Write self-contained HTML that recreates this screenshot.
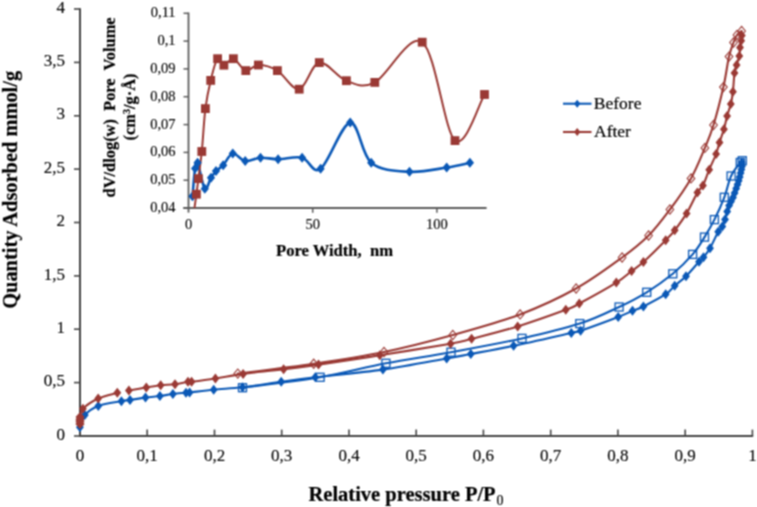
<!DOCTYPE html>
<html><head><meta charset="utf-8"><style>
html,body{margin:0;padding:0;background:#fff;}
body{width:757px;height:507px;overflow:hidden;font-family:"Liberation Serif",serif;}
svg{display:block;}
text{stroke:#000;stroke-width:0.2px;}
.t text{stroke-width:0.12px;}
</style></head><body>
<svg width="757" height="507" viewBox="0 0 757 507">
<defs><filter id="bl" color-interpolation-filters="sRGB" x="0" y="0" width="757" height="507" filterUnits="userSpaceOnUse"><feConvolveMatrix order="3" kernelMatrix="1 2 1 2 4 2 1 2 1" divisor="16" edgeMode="duplicate" preserveAlpha="false"/></filter></defs>
<g filter="url(#bl)">
<rect width="757" height="507" fill="#fff"/>
<g stroke="#454545" fill="none">
<line x1="80.0" y1="8.2" x2="80.0" y2="437.0" stroke-width="2"/>
<line x1="79.0" y1="436.0" x2="753.2" y2="436.0" stroke-width="2"/>
<line x1="74" y1="436.0" x2="80.0" y2="436.0" stroke-width="1.6"/>
<line x1="74" y1="382.6" x2="80.0" y2="382.6" stroke-width="1.6"/>
<line x1="74" y1="329.2" x2="80.0" y2="329.2" stroke-width="1.6"/>
<line x1="74" y1="275.9" x2="80.0" y2="275.9" stroke-width="1.6"/>
<line x1="74" y1="222.5" x2="80.0" y2="222.5" stroke-width="1.6"/>
<line x1="74" y1="169.1" x2="80.0" y2="169.1" stroke-width="1.6"/>
<line x1="74" y1="115.8" x2="80.0" y2="115.8" stroke-width="1.6"/>
<line x1="74" y1="62.4" x2="80.0" y2="62.4" stroke-width="1.6"/>
<line x1="74" y1="9.0" x2="80.0" y2="9.0" stroke-width="1.6"/>
<line x1="80.0" y1="429.6" x2="80.0" y2="436.0" stroke-width="1.6"/>
<line x1="147.2" y1="429.6" x2="147.2" y2="436.0" stroke-width="1.6"/>
<line x1="214.5" y1="429.6" x2="214.5" y2="436.0" stroke-width="1.6"/>
<line x1="281.7" y1="429.6" x2="281.7" y2="436.0" stroke-width="1.6"/>
<line x1="349.0" y1="429.6" x2="349.0" y2="436.0" stroke-width="1.6"/>
<line x1="416.2" y1="429.6" x2="416.2" y2="436.0" stroke-width="1.6"/>
<line x1="483.4" y1="429.6" x2="483.4" y2="436.0" stroke-width="1.6"/>
<line x1="550.7" y1="429.6" x2="550.7" y2="436.0" stroke-width="1.6"/>
<line x1="617.9" y1="429.6" x2="617.9" y2="436.0" stroke-width="1.6"/>
<line x1="685.2" y1="429.6" x2="685.2" y2="436.0" stroke-width="1.6"/>
<line x1="752.4" y1="429.6" x2="752.4" y2="436.0" stroke-width="1.6"/>
</g>
<g class="t" font-family="Liberation Serif" font-size="17" fill="#000000">
<text x="65" y="439.6" text-anchor="end">0</text>
<text x="65" y="386.2" text-anchor="end">0,5</text>
<text x="65" y="332.9" text-anchor="end">1</text>
<text x="65" y="279.5" text-anchor="end">1,5</text>
<text x="65" y="226.1" text-anchor="end">2</text>
<text x="65" y="172.7" text-anchor="end">2,5</text>
<text x="65" y="119.3" text-anchor="end">3</text>
<text x="65" y="66.0" text-anchor="end">3,5</text>
<text x="65" y="12.6" text-anchor="end">4</text>
<text x="80.0" y="460.6" text-anchor="middle">0</text>
<text x="147.2" y="460.6" text-anchor="middle">0,1</text>
<text x="214.5" y="460.6" text-anchor="middle">0,2</text>
<text x="281.7" y="460.6" text-anchor="middle">0,3</text>
<text x="349.0" y="460.6" text-anchor="middle">0,4</text>
<text x="416.2" y="460.6" text-anchor="middle">0,5</text>
<text x="483.4" y="460.6" text-anchor="middle">0,6</text>
<text x="550.7" y="460.6" text-anchor="middle">0,7</text>
<text x="617.9" y="460.6" text-anchor="middle">0,8</text>
<text x="685.2" y="460.6" text-anchor="middle">0,9</text>
<text x="752.4" y="460.6" text-anchor="middle">1</text>
</g>
<text x="308.5" y="500.8" font-family="Liberation Serif" font-weight="bold" font-size="20.5" fill="#000000">Relative pressure P/P<tspan font-size="14" font-weight="normal" dx="0.8" dy="4.2">0</tspan></text>
<text transform="translate(17,308.8) rotate(-90)" x="0" y="0" font-family="Liberation Serif" font-weight="bold" font-size="20.4" fill="#000000">Quantity Adsorbed mmol/g</text>
<path d="M79.9 427.3 C80.7 425.3 81.7 418.7 84.8 415.1 C87.9 411.5 92.2 408.2 98.3 405.9 C104.4 403.6 116.1 402.2 121.4 401.2 C126.7 400.2 126.0 400.6 130.0 400.0 C134.0 399.4 140.5 398.3 145.5 397.6 C150.5 396.9 155.3 396.6 159.9 396.0 C164.5 395.4 168.6 394.6 172.9 394.0 C177.2 393.4 183.2 392.9 186.0 392.7 C188.8 392.4 185.0 393.0 189.6 392.5 C194.2 392.0 204.9 390.6 213.7 389.7 C222.5 388.8 231.2 388.6 242.5 387.3 C253.8 386.0 269.1 383.5 281.2 381.8 C293.3 380.1 298.4 379.3 315.3 377.3 C332.2 375.3 361.0 372.7 382.9 369.6 C404.8 366.5 432.0 361.1 446.7 358.5 C461.4 355.9 459.6 356.1 470.8 354.0 C482.0 351.9 496.9 349.3 513.6 345.8 C530.4 342.3 560.1 335.4 571.3 332.9 C582.5 330.4 572.8 333.4 580.6 330.7 C588.4 328.0 609.6 320.2 618.2 316.9 C626.9 313.6 628.3 312.5 632.5 310.8 C636.7 309.1 637.9 309.3 643.4 306.5 C648.9 303.7 660.5 297.7 665.7 294.2 C670.9 290.7 671.3 288.7 674.7 285.7 C678.1 282.7 682.0 280.2 686.0 276.2 C690.0 272.2 696.1 264.9 699.0 261.8 C701.9 258.7 701.7 259.6 703.5 257.3 C705.3 255.0 707.5 252.4 710.0 248.2 C712.5 243.9 716.2 235.4 718.2 231.8 C720.2 228.2 721.2 228.7 722.3 226.6 C723.4 224.5 724.2 221.9 725.0 219.4 C725.8 216.9 726.5 213.8 727.2 211.5 C727.9 209.2 728.5 207.2 729.1 205.5 C729.7 203.8 730.4 202.8 731.0 201.5 C731.6 200.2 732.4 198.8 733.0 197.4 C733.6 196.0 734.1 194.5 734.6 193.0 C735.1 191.5 735.7 189.9 736.2 188.5 C736.7 187.1 737.1 185.8 737.5 184.5 C737.9 183.2 738.3 182.1 738.7 180.8 C739.1 179.6 739.4 178.3 739.7 177.0 C740.0 175.7 740.3 174.2 740.6 173.0 C740.9 171.8 741.2 170.6 741.4 169.5 C741.6 168.4 741.9 167.4 742.0 166.2 C742.1 165.0 741.8 163.1 741.8 162.5" fill="none" stroke="#0a58b6" stroke-width="2.1" stroke-linejoin="round" stroke-linecap="round"/>
<path d="M742.3 160.7 C742.0 161.0 742.2 159.9 740.3 162.5 C738.4 165.1 733.8 170.2 731.1 176.0 C728.4 181.8 727.1 190.0 724.3 197.3 C721.5 204.6 717.7 213.0 714.4 219.6 C711.1 226.2 708.1 231.3 704.5 237.1 C700.9 242.9 697.9 248.3 692.6 254.4 C687.3 260.5 680.4 267.5 672.8 273.8 C665.1 280.1 655.7 286.8 646.7 292.3 C637.8 297.8 630.2 301.8 619.1 307.0 C608.0 312.2 596.0 318.4 579.8 323.6 C563.6 328.8 543.5 333.6 522.0 338.4 C500.5 343.2 473.7 348.0 451.0 352.2 C428.3 356.4 407.7 359.1 385.9 363.3 C364.1 367.5 344.0 373.2 320.1 377.3 C296.2 381.4 255.4 386.0 242.5 387.7" fill="none" stroke="#0a58b6" stroke-width="2.1" stroke-linejoin="round" stroke-linecap="round"/>
<path d="M80.0 424.0 C80.0 423.6 80.0 422.2 80.0 421.5 C80.0 420.8 80.0 420.2 80.0 419.5 C80.0 418.8 79.6 418.8 80.1 417.0 C80.6 415.2 79.9 411.9 82.9 408.8 C85.9 405.7 92.5 401.2 98.2 398.5 C103.9 395.8 114.1 393.8 117.3 392.8" fill="none" stroke="#9a3934" stroke-width="2.1" stroke-linejoin="round" stroke-linecap="round"/>
<path d="M128.9 390.5 C131.8 390.0 141.0 388.3 146.3 387.4 C151.6 386.5 155.9 385.7 160.7 385.2 C165.5 384.7 170.4 384.8 175.0 384.2 C179.6 383.6 185.2 382.2 188.0 381.8 C190.8 381.4 187.0 382.4 191.6 381.8 C196.2 381.2 206.8 379.8 215.4 378.5 C224.0 377.2 231.7 375.4 243.1 373.9 C254.5 372.4 271.0 370.9 283.6 369.3 C296.2 367.8 302.5 366.9 318.5 364.6 C334.5 362.3 357.8 358.8 379.8 355.3 C401.8 351.8 435.3 346.4 450.6 343.7 C465.9 340.9 460.4 341.7 471.6 338.8 C482.8 335.9 502.0 331.2 517.7 326.4 C533.4 321.6 555.5 313.6 565.8 309.8 C576.1 306.0 570.9 308.0 579.3 303.5 C587.7 299.0 607.6 288.0 616.3 282.6 C625.0 277.2 627.1 274.4 631.6 271.0 C636.1 267.6 637.7 267.1 643.4 262.0 C649.1 256.9 660.5 245.5 665.7 240.2 C670.9 234.9 671.2 234.8 674.7 230.3 C678.2 225.8 682.8 219.7 686.6 213.4 C690.4 207.1 694.7 197.2 697.4 192.6 C700.1 187.9 700.9 189.3 702.9 185.5 C704.9 181.7 707.0 174.9 709.2 169.7 C711.4 164.4 714.4 158.6 716.1 154.0 C717.8 149.4 718.2 146.5 719.5 142.4 C720.8 138.3 722.6 133.7 723.9 129.3 C725.2 124.9 726.0 120.2 727.1 116.0 C728.2 111.8 729.8 108.0 730.8 104.0 C731.8 100.0 732.3 97.0 732.9 91.8 C733.5 86.6 733.9 77.6 734.5 73.1 C735.1 68.6 735.8 67.8 736.6 64.9 C737.4 62.0 738.7 58.8 739.3 55.9 C739.9 53.0 739.7 50.1 740.0 47.6 C740.3 45.1 740.9 42.8 741.2 40.8 C741.5 38.8 741.7 36.4 741.8 35.5" fill="none" stroke="#9a3934" stroke-width="2.1" stroke-linejoin="round" stroke-linecap="round"/>
<path d="M741.6 31.0 C740.8 31.7 738.4 33.1 737.0 35.0 C735.6 36.9 734.8 38.9 733.5 42.5 C732.2 46.1 730.7 49.2 729.0 56.6 C727.3 64.0 726.0 75.7 723.4 87.1 C720.8 98.5 716.6 114.9 713.5 125.0 C710.4 135.1 708.6 139.0 704.9 147.9 C701.1 156.8 696.8 168.1 691.0 178.4 C685.2 188.7 677.0 200.0 669.9 209.5 C662.8 219.0 656.6 227.5 648.6 235.5 C640.6 243.5 634.2 248.7 622.1 257.5 C610.0 266.3 593.1 279.0 576.1 288.5 C559.1 298.0 540.6 306.6 520.1 314.4 C499.6 322.1 475.5 328.7 452.8 335.0 C430.1 341.3 407.2 347.2 384.0 352.0 C360.8 356.8 338.1 360.2 313.7 363.8 C289.3 367.4 250.5 372.0 237.8 373.6" fill="none" stroke="#9a3934" stroke-width="2.1" stroke-linejoin="round" stroke-linecap="round"/>
<path d="M79.9 422.3L83.8 427.3L79.9 432.3L76.0 427.3Z" fill="#0a58b6"/>
<path d="M84.8 410.1L88.7 415.1L84.8 420.1L80.9 415.1Z" fill="#0a58b6"/>
<path d="M98.3 400.9L102.2 405.9L98.3 410.9L94.4 405.9Z" fill="#0a58b6"/>
<path d="M121.4 396.2L125.3 401.2L121.4 406.2L117.5 401.2Z" fill="#0a58b6"/>
<path d="M130.0 395.0L133.9 400.0L130.0 405.0L126.1 400.0Z" fill="#0a58b6"/>
<path d="M145.5 392.6L149.4 397.6L145.5 402.6L141.6 397.6Z" fill="#0a58b6"/>
<path d="M159.9 391.0L163.8 396.0L159.9 401.0L156.0 396.0Z" fill="#0a58b6"/>
<path d="M172.9 389.0L176.8 394.0L172.9 399.0L169.0 394.0Z" fill="#0a58b6"/>
<path d="M186.0 387.7L189.9 392.7L186.0 397.7L182.1 392.7Z" fill="#0a58b6"/>
<path d="M189.6 387.5L193.5 392.5L189.6 397.5L185.7 392.5Z" fill="#0a58b6"/>
<path d="M213.7 384.7L217.6 389.7L213.7 394.7L209.8 389.7Z" fill="#0a58b6"/>
<path d="M242.5 382.3L246.4 387.3L242.5 392.3L238.6 387.3Z" fill="#0a58b6"/>
<path d="M281.2 376.8L285.1 381.8L281.2 386.8L277.3 381.8Z" fill="#0a58b6"/>
<path d="M315.3 372.3L319.2 377.3L315.3 382.3L311.4 377.3Z" fill="#0a58b6"/>
<path d="M382.9 364.6L386.8 369.6L382.9 374.6L379.0 369.6Z" fill="#0a58b6"/>
<path d="M446.7 353.5L450.6 358.5L446.7 363.5L442.8 358.5Z" fill="#0a58b6"/>
<path d="M470.8 349.0L474.7 354.0L470.8 359.0L466.9 354.0Z" fill="#0a58b6"/>
<path d="M513.6 340.8L517.5 345.8L513.6 350.8L509.7 345.8Z" fill="#0a58b6"/>
<path d="M571.3 327.9L575.2 332.9L571.3 337.9L567.4 332.9Z" fill="#0a58b6"/>
<path d="M580.6 325.7L584.5 330.7L580.6 335.7L576.7 330.7Z" fill="#0a58b6"/>
<path d="M618.2 311.9L622.1 316.9L618.2 321.9L614.3 316.9Z" fill="#0a58b6"/>
<path d="M632.5 305.8L636.4 310.8L632.5 315.8L628.6 310.8Z" fill="#0a58b6"/>
<path d="M643.4 301.5L647.3 306.5L643.4 311.5L639.5 306.5Z" fill="#0a58b6"/>
<path d="M665.7 289.2L669.6 294.2L665.7 299.2L661.8 294.2Z" fill="#0a58b6"/>
<path d="M674.7 280.7L678.6 285.7L674.7 290.7L670.8 285.7Z" fill="#0a58b6"/>
<path d="M686.0 271.2L689.9 276.2L686.0 281.2L682.1 276.2Z" fill="#0a58b6"/>
<path d="M699.0 256.8L702.9 261.8L699.0 266.8L695.1 261.8Z" fill="#0a58b6"/>
<path d="M703.5 252.3L707.4 257.3L703.5 262.3L699.6 257.3Z" fill="#0a58b6"/>
<path d="M710.0 243.2L713.9 248.2L710.0 253.2L706.1 248.2Z" fill="#0a58b6"/>
<path d="M718.2 226.8L722.1 231.8L718.2 236.8L714.3 231.8Z" fill="#0a58b6"/>
<path d="M722.3 221.6L726.2 226.6L722.3 231.6L718.4 226.6Z" fill="#0a58b6"/>
<path d="M725.0 214.4L728.9 219.4L725.0 224.4L721.1 219.4Z" fill="#0a58b6"/>
<path d="M727.2 206.5L731.1 211.5L727.2 216.5L723.3 211.5Z" fill="#0a58b6"/>
<path d="M729.1 200.5L733.0 205.5L729.1 210.5L725.2 205.5Z" fill="#0a58b6"/>
<path d="M731.0 196.5L734.9 201.5L731.0 206.5L727.1 201.5Z" fill="#0a58b6"/>
<path d="M733.0 192.4L736.9 197.4L733.0 202.4L729.1 197.4Z" fill="#0a58b6"/>
<path d="M734.6 188.0L738.5 193.0L734.6 198.0L730.7 193.0Z" fill="#0a58b6"/>
<path d="M736.2 183.5L740.1 188.5L736.2 193.5L732.3 188.5Z" fill="#0a58b6"/>
<path d="M737.5 179.5L741.4 184.5L737.5 189.5L733.6 184.5Z" fill="#0a58b6"/>
<path d="M738.7 175.8L742.6 180.8L738.7 185.8L734.8 180.8Z" fill="#0a58b6"/>
<path d="M739.7 172.0L743.6 177.0L739.7 182.0L735.8 177.0Z" fill="#0a58b6"/>
<path d="M740.6 168.0L744.5 173.0L740.6 178.0L736.7 173.0Z" fill="#0a58b6"/>
<path d="M741.4 164.5L745.3 169.5L741.4 174.5L737.5 169.5Z" fill="#0a58b6"/>
<path d="M742.0 161.2L745.9 166.2L742.0 171.2L738.1 166.2Z" fill="#0a58b6"/>
<path d="M741.8 157.5L745.7 162.5L741.8 167.5L737.9 162.5Z" fill="#0a58b6"/>
<rect x="738.3" y="156.7" width="8.0" height="8.0" fill="none" stroke="#0a58b6" stroke-width="1.3"/>
<rect x="736.3" y="158.5" width="8.0" height="8.0" fill="none" stroke="#0a58b6" stroke-width="1.3"/>
<rect x="727.1" y="172.0" width="8.0" height="8.0" fill="none" stroke="#0a58b6" stroke-width="1.3"/>
<rect x="720.3" y="193.3" width="8.0" height="8.0" fill="none" stroke="#0a58b6" stroke-width="1.3"/>
<rect x="710.4" y="215.6" width="8.0" height="8.0" fill="none" stroke="#0a58b6" stroke-width="1.3"/>
<rect x="700.5" y="233.1" width="8.0" height="8.0" fill="none" stroke="#0a58b6" stroke-width="1.3"/>
<rect x="688.6" y="250.4" width="8.0" height="8.0" fill="none" stroke="#0a58b6" stroke-width="1.3"/>
<rect x="668.8" y="269.8" width="8.0" height="8.0" fill="none" stroke="#0a58b6" stroke-width="1.3"/>
<rect x="642.7" y="288.3" width="8.0" height="8.0" fill="none" stroke="#0a58b6" stroke-width="1.3"/>
<rect x="615.1" y="303.0" width="8.0" height="8.0" fill="none" stroke="#0a58b6" stroke-width="1.3"/>
<rect x="575.8" y="319.6" width="8.0" height="8.0" fill="none" stroke="#0a58b6" stroke-width="1.3"/>
<rect x="518.0" y="334.4" width="8.0" height="8.0" fill="none" stroke="#0a58b6" stroke-width="1.3"/>
<rect x="447.0" y="348.2" width="8.0" height="8.0" fill="none" stroke="#0a58b6" stroke-width="1.3"/>
<rect x="381.9" y="359.3" width="8.0" height="8.0" fill="none" stroke="#0a58b6" stroke-width="1.3"/>
<rect x="316.1" y="373.3" width="8.0" height="8.0" fill="none" stroke="#0a58b6" stroke-width="1.3"/>
<rect x="238.5" y="383.7" width="8.0" height="8.0" fill="none" stroke="#0a58b6" stroke-width="1.3"/>
<path d="M80.0 419.0L84.6 424.0L80.0 429.0L75.4 424.0Z" fill="#9a3934"/>
<path d="M80.0 416.5L84.6 421.5L80.0 426.5L75.4 421.5Z" fill="#9a3934"/>
<path d="M80.0 414.5L84.6 419.5L80.0 424.5L75.4 419.5Z" fill="#9a3934"/>
<path d="M80.1 412.0L84.7 417.0L80.1 422.0L75.5 417.0Z" fill="#9a3934"/>
<path d="M82.9 403.8L86.8 408.8L82.9 413.8L79.0 408.8Z" fill="#9a3934"/>
<path d="M98.2 393.5L102.1 398.5L98.2 403.5L94.3 398.5Z" fill="#9a3934"/>
<path d="M117.3 387.8L121.2 392.8L117.3 397.8L113.4 392.8Z" fill="#9a3934"/>
<path d="M128.9 385.5L132.8 390.5L128.9 395.5L125.0 390.5Z" fill="#9a3934"/>
<path d="M146.3 382.4L150.2 387.4L146.3 392.4L142.4 387.4Z" fill="#9a3934"/>
<path d="M160.7 380.2L164.6 385.2L160.7 390.2L156.8 385.2Z" fill="#9a3934"/>
<path d="M175.0 379.2L178.9 384.2L175.0 389.2L171.1 384.2Z" fill="#9a3934"/>
<path d="M188.0 376.8L191.9 381.8L188.0 386.8L184.1 381.8Z" fill="#9a3934"/>
<path d="M191.6 376.8L195.5 381.8L191.6 386.8L187.7 381.8Z" fill="#9a3934"/>
<path d="M215.4 373.5L219.3 378.5L215.4 383.5L211.5 378.5Z" fill="#9a3934"/>
<path d="M243.1 368.9L247.0 373.9L243.1 378.9L239.2 373.9Z" fill="#9a3934"/>
<path d="M283.6 364.3L287.5 369.3L283.6 374.3L279.7 369.3Z" fill="#9a3934"/>
<path d="M318.5 359.6L322.4 364.6L318.5 369.6L314.6 364.6Z" fill="#9a3934"/>
<path d="M379.8 350.3L383.7 355.3L379.8 360.3L375.9 355.3Z" fill="#9a3934"/>
<path d="M450.6 338.7L454.5 343.7L450.6 348.7L446.7 343.7Z" fill="#9a3934"/>
<path d="M471.6 333.8L475.5 338.8L471.6 343.8L467.7 338.8Z" fill="#9a3934"/>
<path d="M517.7 321.4L521.6 326.4L517.7 331.4L513.8 326.4Z" fill="#9a3934"/>
<path d="M565.8 304.8L569.7 309.8L565.8 314.8L561.9 309.8Z" fill="#9a3934"/>
<path d="M579.3 298.5L583.2 303.5L579.3 308.5L575.4 303.5Z" fill="#9a3934"/>
<path d="M616.3 277.6L620.2 282.6L616.3 287.6L612.4 282.6Z" fill="#9a3934"/>
<path d="M631.6 266.0L635.5 271.0L631.6 276.0L627.7 271.0Z" fill="#9a3934"/>
<path d="M643.4 257.0L647.3 262.0L643.4 267.0L639.5 262.0Z" fill="#9a3934"/>
<path d="M665.7 235.2L669.6 240.2L665.7 245.2L661.8 240.2Z" fill="#9a3934"/>
<path d="M674.7 225.3L678.6 230.3L674.7 235.3L670.8 230.3Z" fill="#9a3934"/>
<path d="M686.6 208.4L690.5 213.4L686.6 218.4L682.7 213.4Z" fill="#9a3934"/>
<path d="M697.4 187.6L701.3 192.6L697.4 197.6L693.5 192.6Z" fill="#9a3934"/>
<path d="M702.9 180.5L706.8 185.5L702.9 190.5L699.0 185.5Z" fill="#9a3934"/>
<path d="M709.2 164.7L713.1 169.7L709.2 174.7L705.3 169.7Z" fill="#9a3934"/>
<path d="M716.1 149.0L720.0 154.0L716.1 159.0L712.2 154.0Z" fill="#9a3934"/>
<path d="M719.5 137.4L723.4 142.4L719.5 147.4L715.6 142.4Z" fill="#9a3934"/>
<path d="M723.9 124.3L727.8 129.3L723.9 134.3L720.0 129.3Z" fill="#9a3934"/>
<path d="M727.1 111.0L731.0 116.0L727.1 121.0L723.2 116.0Z" fill="#9a3934"/>
<path d="M730.8 99.0L734.7 104.0L730.8 109.0L726.9 104.0Z" fill="#9a3934"/>
<path d="M732.9 86.8L736.8 91.8L732.9 96.8L729.0 91.8Z" fill="#9a3934"/>
<path d="M734.5 68.1L738.4 73.1L734.5 78.1L730.6 73.1Z" fill="#9a3934"/>
<path d="M736.6 59.9L740.5 64.9L736.6 69.9L732.7 64.9Z" fill="#9a3934"/>
<path d="M739.3 50.9L743.2 55.9L739.3 60.9L735.4 55.9Z" fill="#9a3934"/>
<path d="M740.0 42.6L743.9 47.6L740.0 52.6L736.1 47.6Z" fill="#9a3934"/>
<path d="M741.2 35.8L745.1 40.8L741.2 45.8L737.3 40.8Z" fill="#9a3934"/>
<path d="M741.8 30.5L745.7 35.5L741.8 40.5L737.9 35.5Z" fill="#9a3934"/>
<path d="M741.6 26.4L745.4 31.0L741.6 35.6L737.8 31.0Z" fill="none" stroke="#9a3934" stroke-width="1.1"/>
<path d="M737.0 30.4L740.8 35.0L737.0 39.6L733.2 35.0Z" fill="none" stroke="#9a3934" stroke-width="1.1"/>
<path d="M733.5 37.9L737.3 42.5L733.5 47.1L729.7 42.5Z" fill="none" stroke="#9a3934" stroke-width="1.1"/>
<path d="M729.0 52.0L732.8 56.6L729.0 61.2L725.2 56.6Z" fill="none" stroke="#9a3934" stroke-width="1.1"/>
<path d="M723.4 82.5L727.2 87.1L723.4 91.7L719.6 87.1Z" fill="none" stroke="#9a3934" stroke-width="1.1"/>
<path d="M713.5 120.4L717.3 125.0L713.5 129.6L709.7 125.0Z" fill="none" stroke="#9a3934" stroke-width="1.1"/>
<path d="M704.9 143.3L708.7 147.9L704.9 152.5L701.1 147.9Z" fill="none" stroke="#9a3934" stroke-width="1.1"/>
<path d="M691.0 173.8L694.8 178.4L691.0 183.0L687.2 178.4Z" fill="none" stroke="#9a3934" stroke-width="1.1"/>
<path d="M669.9 204.9L673.7 209.5L669.9 214.1L666.1 209.5Z" fill="none" stroke="#9a3934" stroke-width="1.1"/>
<path d="M648.6 230.9L652.4 235.5L648.6 240.1L644.8 235.5Z" fill="none" stroke="#9a3934" stroke-width="1.1"/>
<path d="M622.1 252.9L625.9 257.5L622.1 262.1L618.3 257.5Z" fill="none" stroke="#9a3934" stroke-width="1.1"/>
<path d="M576.1 283.9L579.9 288.5L576.1 293.1L572.3 288.5Z" fill="none" stroke="#9a3934" stroke-width="1.1"/>
<path d="M520.1 309.8L523.9 314.4L520.1 319.0L516.3 314.4Z" fill="none" stroke="#9a3934" stroke-width="1.1"/>
<path d="M452.8 330.4L456.6 335.0L452.8 339.6L449.0 335.0Z" fill="none" stroke="#9a3934" stroke-width="1.1"/>
<path d="M384.0 347.4L387.8 352.0L384.0 356.6L380.2 352.0Z" fill="none" stroke="#9a3934" stroke-width="1.1"/>
<path d="M313.7 359.2L317.5 363.8L313.7 368.4L309.9 363.8Z" fill="none" stroke="#9a3934" stroke-width="1.1"/>
<path d="M237.8 369.0L241.6 373.6L237.8 378.2L234.0 373.6Z" fill="none" stroke="#9a3934" stroke-width="1.1"/>
<line x1="563" y1="103.7" x2="591.5" y2="103.7" stroke="#0a58b6" stroke-width="2.1"/>
<path d="M577.2 99.8L580.4 103.8L577.2 107.8L574.0 103.8Z" fill="#0a58b6"/>
<line x1="563" y1="132" x2="591.5" y2="132" stroke="#9a3934" stroke-width="2.1"/>
<path d="M577.2 128.1L580.4 132.1L577.2 136.1L574.0 132.1Z" fill="#9a3934"/>
<g font-family="Liberation Serif" font-size="17.5" fill="#000000">
<text x="593.8" y="109.2">Before</text>
<text x="594" y="137.4">After</text>
</g>
<g stroke="#5c5c5c" fill="none">
<line x1="188.5" y1="12.5" x2="188.5" y2="212.6" stroke-width="1.8"/>
<line x1="183.3" y1="208.0" x2="486.6" y2="208.0" stroke-width="1.8"/>
<line x1="183.5" y1="208.0" x2="188.5" y2="208.0" stroke-width="1.5"/>
<line x1="183.5" y1="180.2" x2="188.5" y2="180.2" stroke-width="1.5"/>
<line x1="183.5" y1="152.4" x2="188.5" y2="152.4" stroke-width="1.5"/>
<line x1="183.5" y1="124.6" x2="188.5" y2="124.6" stroke-width="1.5"/>
<line x1="183.5" y1="96.7" x2="188.5" y2="96.7" stroke-width="1.5"/>
<line x1="183.5" y1="68.9" x2="188.5" y2="68.9" stroke-width="1.5"/>
<line x1="183.5" y1="41.1" x2="188.5" y2="41.1" stroke-width="1.5"/>
<line x1="183.5" y1="13.3" x2="188.5" y2="13.3" stroke-width="1.5"/>
<line x1="312.7" y1="208.0" x2="312.7" y2="212.8" stroke-width="1.5"/>
<line x1="436.9" y1="208.0" x2="436.9" y2="212.8" stroke-width="1.5"/>
</g>
<g class="t" font-family="Liberation Serif" font-size="14.5" fill="#000000">
<text x="175.6" y="211.9" text-anchor="end">0,04</text>
<text x="175.6" y="184.1" text-anchor="end">0,05</text>
<text x="175.6" y="156.3" text-anchor="end">0,06</text>
<text x="175.6" y="128.5" text-anchor="end">0,07</text>
<text x="175.6" y="100.6" text-anchor="end">0,08</text>
<text x="175.6" y="72.8" text-anchor="end">0,09</text>
<text x="175.6" y="45.0" text-anchor="end">0,1</text>
<text x="175.6" y="17.2" text-anchor="end">0,11</text>
<text x="188.5" y="229" text-anchor="middle">0</text>
<text x="312.7" y="229" text-anchor="middle">50</text>
<text x="436.9" y="229" text-anchor="middle">100</text>
</g>
<text x="276" y="255.8" font-family="Liberation Serif" font-weight="bold" font-size="16.6" fill="#000000" xml:space="preserve">Pore Width,  nm</text>
<text transform="translate(115,197.4) rotate(-90)" font-family="Liberation Serif" font-weight="bold" font-size="16.4" fill="#000000" xml:space="preserve">dV/dlog(w)  Pore  Volume</text>
<text transform="translate(134.5,140.4) rotate(-90)" font-family="Liberation Serif" font-weight="bold" font-size="16.4" fill="#000000">(cm<tspan font-size="10" dy="-4.8">3</tspan><tspan dy="4.8">/g·Å)</tspan></text>
<defs><clipPath id="ic"><rect x="188" y="0" width="300" height="208"/></clipPath></defs>
<path d="M192.5 196.2 C192.9 191.6 194.2 174.1 195.1 168.5 C195.9 162.9 196.0 159.3 197.6 162.7 C199.2 166.1 202.6 186.2 204.8 188.7 C207.0 191.2 209.1 180.7 211.0 177.8 C212.9 174.9 214.0 173.2 216.0 171.1 C218.0 169.0 220.4 168.1 223.2 165.2 C226.0 162.3 229.1 154.2 232.8 153.5 C236.5 152.8 240.6 160.3 245.2 161.0 C249.8 161.7 255.0 158.0 260.5 157.7 C266.0 157.4 271.2 159.2 278.1 159.2 C285.0 159.2 295.0 156.1 302.1 157.7 C309.2 159.3 312.6 174.7 320.6 168.8 C328.6 163.0 341.8 123.6 350.2 122.6 C358.6 121.6 361.3 154.5 371.2 162.7 C381.1 170.9 396.9 171.0 409.5 171.8 C422.1 172.6 436.6 169.0 446.7 167.5 C456.8 166.0 466.0 163.6 469.9 162.8" fill="none" stroke="#0a58b6" stroke-width="2.6" stroke-linejoin="round" stroke-linecap="round"/>
<g clip-path="url(#ic)">
<path d="M193.6 214.0 C194.1 210.7 195.6 200.1 196.4 194.2 C197.2 188.3 197.5 185.7 198.4 178.6 C199.3 171.5 200.6 163.2 201.8 151.5 C203.0 139.8 203.9 120.4 205.4 108.6 C206.9 96.8 208.7 88.7 210.7 80.4 C212.7 72.1 215.4 61.2 217.6 58.7 C219.8 56.2 221.3 65.2 223.9 65.2 C226.5 65.2 229.8 57.8 233.4 58.7 C237.1 59.6 241.6 69.5 245.8 70.6 C250.0 71.6 253.1 65.0 258.4 65.0 C263.7 65.0 270.6 66.6 277.4 70.6 C284.2 74.6 292.2 90.5 299.2 89.2 C306.2 87.9 311.4 64.0 319.3 62.6 C327.2 61.2 337.1 77.4 346.4 80.7 C355.6 84.0 362.2 88.8 374.8 82.4 C387.4 76.0 408.8 32.5 422.2 42.2 C435.6 51.9 444.6 131.9 455.0 140.6 C465.4 149.3 479.6 102.2 484.5 94.5" fill="none" stroke="#9a3934" stroke-width="2.0" stroke-linejoin="round" stroke-linecap="round"/>
</g>
<path d="M192.5 191.2L196.6 196.2L192.5 201.2L188.4 196.2Z" fill="#0a58b6"/>
<path d="M195.1 163.5L199.2 168.5L195.1 173.5L191.0 168.5Z" fill="#0a58b6"/>
<path d="M197.6 157.7L201.7 162.7L197.6 167.7L193.5 162.7Z" fill="#0a58b6"/>
<path d="M204.8 183.7L208.9 188.7L204.8 193.7L200.7 188.7Z" fill="#0a58b6"/>
<path d="M211.0 172.8L215.1 177.8L211.0 182.8L206.9 177.8Z" fill="#0a58b6"/>
<path d="M216.0 166.1L220.1 171.1L216.0 176.1L211.9 171.1Z" fill="#0a58b6"/>
<path d="M223.2 160.2L227.3 165.2L223.2 170.2L219.1 165.2Z" fill="#0a58b6"/>
<path d="M232.8 148.5L236.9 153.5L232.8 158.5L228.7 153.5Z" fill="#0a58b6"/>
<path d="M245.2 156.0L249.3 161.0L245.2 166.0L241.1 161.0Z" fill="#0a58b6"/>
<path d="M260.5 152.7L264.6 157.7L260.5 162.7L256.4 157.7Z" fill="#0a58b6"/>
<path d="M278.1 154.2L282.2 159.2L278.1 164.2L274.0 159.2Z" fill="#0a58b6"/>
<path d="M302.1 152.7L306.2 157.7L302.1 162.7L298.0 157.7Z" fill="#0a58b6"/>
<path d="M320.6 163.8L324.7 168.8L320.6 173.8L316.5 168.8Z" fill="#0a58b6"/>
<path d="M350.2 117.6L354.3 122.6L350.2 127.6L346.1 122.6Z" fill="#0a58b6"/>
<path d="M371.2 157.7L375.3 162.7L371.2 167.7L367.1 162.7Z" fill="#0a58b6"/>
<path d="M409.5 166.8L413.6 171.8L409.5 176.8L405.4 171.8Z" fill="#0a58b6"/>
<path d="M446.7 162.5L450.8 167.5L446.7 172.5L442.6 167.5Z" fill="#0a58b6"/>
<path d="M469.9 157.8L474.0 162.8L469.9 167.8L465.8 162.8Z" fill="#0a58b6"/>
<rect x="192.0" y="189.8" width="8.8" height="8.8" fill="#9a3934"/>
<rect x="194.0" y="174.2" width="8.8" height="8.8" fill="#9a3934"/>
<rect x="197.4" y="147.1" width="8.8" height="8.8" fill="#9a3934"/>
<rect x="201.0" y="104.2" width="8.8" height="8.8" fill="#9a3934"/>
<rect x="206.3" y="76.0" width="8.8" height="8.8" fill="#9a3934"/>
<rect x="213.2" y="54.3" width="8.8" height="8.8" fill="#9a3934"/>
<rect x="219.5" y="60.8" width="8.8" height="8.8" fill="#9a3934"/>
<rect x="229.0" y="54.3" width="8.8" height="8.8" fill="#9a3934"/>
<rect x="241.4" y="66.2" width="8.8" height="8.8" fill="#9a3934"/>
<rect x="254.0" y="60.6" width="8.8" height="8.8" fill="#9a3934"/>
<rect x="273.0" y="66.2" width="8.8" height="8.8" fill="#9a3934"/>
<rect x="294.8" y="84.8" width="8.8" height="8.8" fill="#9a3934"/>
<rect x="314.9" y="58.2" width="8.8" height="8.8" fill="#9a3934"/>
<rect x="342.0" y="76.3" width="8.8" height="8.8" fill="#9a3934"/>
<rect x="370.4" y="78.0" width="8.8" height="8.8" fill="#9a3934"/>
<rect x="417.8" y="37.8" width="8.8" height="8.8" fill="#9a3934"/>
<rect x="450.6" y="136.2" width="8.8" height="8.8" fill="#9a3934"/>
<rect x="480.1" y="90.1" width="8.8" height="8.8" fill="#9a3934"/>
</g>
</svg>
</body></html>
